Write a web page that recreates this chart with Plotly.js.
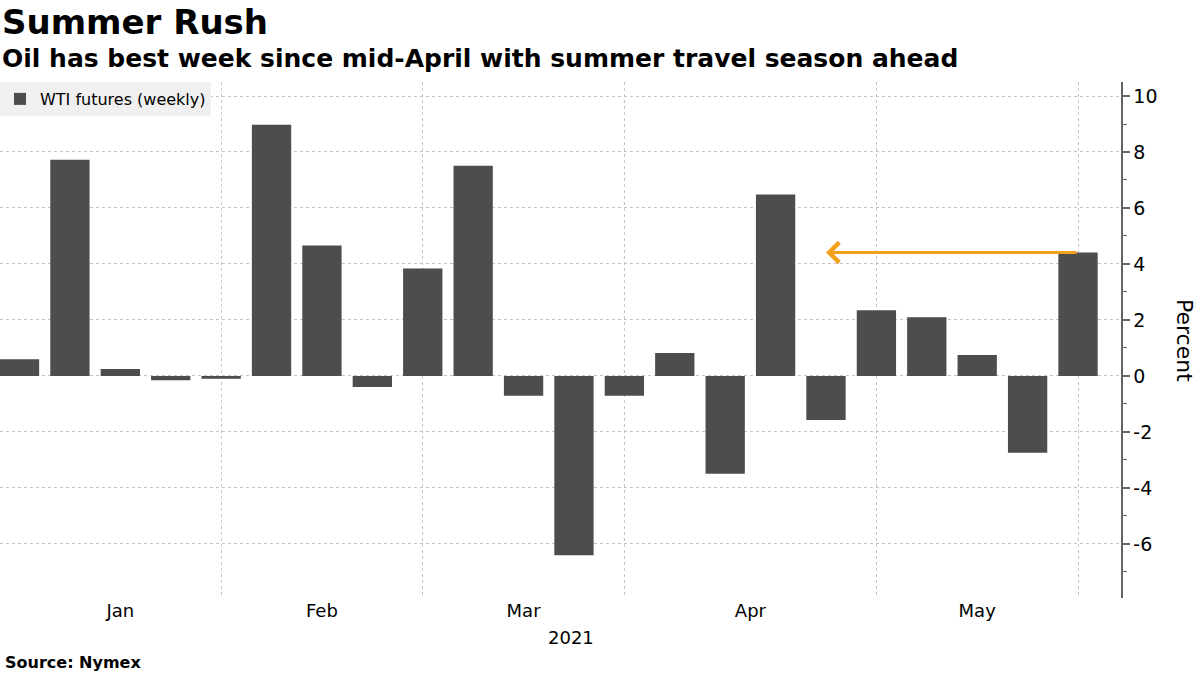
<!DOCTYPE html>
<html><head><meta charset="utf-8">
<script src="https://cdn.plot.ly/plotly-3.0.1.min.js"></script>
<style>html,body{margin:0;padding:0;background:#fff}#chart{width:1200px;height:675px}</style>
</head><body><div id="chart"></div>
<script>
// Week-ending dates (Fridays, 2021)
const weekDates = ['2021-01-01','2021-01-08','2021-01-15','2021-01-22','2021-01-29',
  '2021-02-05','2021-02-12','2021-02-19','2021-02-26',
  '2021-03-05','2021-03-12','2021-03-19','2021-03-26',
  '2021-04-02','2021-04-09','2021-04-16','2021-04-23','2021-04-30',
  '2021-05-07','2021-05-14','2021-05-21','2021-05-28'];
// WTI futures weekly change, percent
const wtiWeekly = [0.6, 7.72, 0.25, -0.15, -0.1, 8.97, 4.66, -0.39, 3.84, 7.51, -0.71,
  -6.4, -0.71, 0.82, -3.49, 6.48, -1.57, 2.35, 2.1, 0.75, -2.74, 4.41];
const monthNames = ['Jan','Feb','Mar','Apr','May'];
const yTickValues = [-6, -4, -2, 0, 2, 4, 6, 8, 10];
const seriesName = 'WTI futures (weekly)';
const yearLabel = '2021';

// month-end bars (gridlines) and label positions between them
const toMs = d => new Date(d + 'T00:00:00Z').getTime();
const fmt = ms => new Date(ms).toISOString().slice(0,19).replace('T',' ');
const monthEnds = [];
weekDates.forEach((d,i) => {
  const next = weekDates[i+1];
  if (!next || next.slice(5,7) !== d.slice(5,7)) monthEnds.push(d);
});
const bounds = [weekDates[0]].concat(monthEnds);
const labelPos = [];
for (let i = 0; i < monthNames.length; i++) labelPos.push(fmt((toMs(bounds[i]) + toMs(bounds[i+1])) / 2));

const day = 86400000;
const xStart = fmt(toMs(weekDates[0]) - 2.71 * day);
const xEnd = fmt(toMs(weekDates[weekDates.length-1]) + 5.97 * day);

const font = 'DejaVu Sans, Verdana, sans-serif';
const lastI = wtiWeekly.length - 1;

const data = [{
  type: 'bar', x: weekDates, y: wtiWeekly, name: seriesName,
  marker: {color: '#4d4d4d'}, showlegend: true
}];

const layout = {
  width: 1200, height: 675,
  margin: {l: 0, r: 79, t: 82, b: 77},
  paper_bgcolor: '#fff', plot_bgcolor: '#fff',
  bargap: 0.22,
  font: {family: font, color: '#000'},
  showlegend: true,
  legend: {x: 0, y: 1, xanchor: 'left', yanchor: 'top', bgcolor: '#f0f0f0',
    font: {size: 16, family: font, color: '#000'}, itemwidth: 30,
    tracegroupgap: 0, borderwidth: 0},
  xaxis: {
    type: 'date', range: [xStart, xEnd], showgrid: false, zeroline: false, showline: false,
    tickmode: 'array', tickvals: labelPos, ticktext: monthNames, ticks: '',
    tickfont: {size: 18, family: font, color: '#000'},
    minor: {tickmode: 'array', tickvals: monthEnds, showgrid: true, gridcolor: '#c4c4c4',
      griddash: 'dot', gridwidth: 1, ticks: ''}
  },
  yaxis: {
    side: 'right', range: [-7.93, 10.5],
    tickmode: 'array', tickvals: yTickValues, ticktext: yTickValues.map(String),
    showgrid: true, gridcolor: '#c4c4c4', griddash: 'dot', gridwidth: 1,
    zeroline: false, showline: true, linecolor: '#666', linewidth: 1.5,
    ticks: 'outside', ticklen: 7, tickwidth: 2, tickcolor: '#666',
    tickfont: {size: 19, family: font, color: '#000'},
    minor: {tickmode: 'linear', tick0: 0, dtick: 1, ticks: 'outside', ticklen: 4, tickcolor: '#666', tickwidth: 1, showgrid: false}
  },
  annotations: [
    {xref: 'paper', yref: 'paper', x: 0, y: 1, yshift: 82, xanchor: 'left', yanchor: 'top',
      text: '<b>Summer Rush</b>', showarrow: false, font: {size: 34, family: font, color: '#000'}},
    {xref: 'paper', yref: 'paper', x: 0, y: 1, yshift: 40, xanchor: 'left', yanchor: 'top',
      text: '<b>Oil has best week since mid-April with summer travel season ahead</b>', showarrow: false,
      font: {size: 25, family: font, color: '#000'}},
    {xref: 'paper', yref: 'paper', x: 0, y: 0, yshift: -27, xanchor: 'left', yanchor: 'top',
      text: yearLabel, showarrow: false, font: {size: 18, family: font, color: '#000'}, xshift: 546},
    {xref: 'paper', yref: 'paper', x: 0, y: 0, yshift: -53, xshift: 3, xanchor: 'left', yanchor: 'top',
      text: '<b>Source: Nymex</b>', showarrow: false, font: {size: 16, family: font, color: '#000'}},
    {xref: 'paper', yref: 'paper', x: 1, y: 0.5, xshift: 64, xanchor: 'center', yanchor: 'middle',
      text: 'Percent', textangle: 90, showarrow: false, font: {size: 22, family: font, color: '#000'}},
    {xref: 'x', yref: 'y', x: weekDates[16], y: wtiWeekly[lastI],
      axref: 'x', ayref: 'y', ax: weekDates[lastI], ay: wtiWeekly[lastI],
      text: '', showarrow: true, arrowhead: 4, arrowsize: 1.3, arrowwidth: 3, arrowcolor: '#f5a01a',
      standoff: 0, startstandoff: 0}
  ]
};

Plotly.newPlot('chart', data, layout, {displayModeBar: false, staticPlot: true});
</script></body></html>
